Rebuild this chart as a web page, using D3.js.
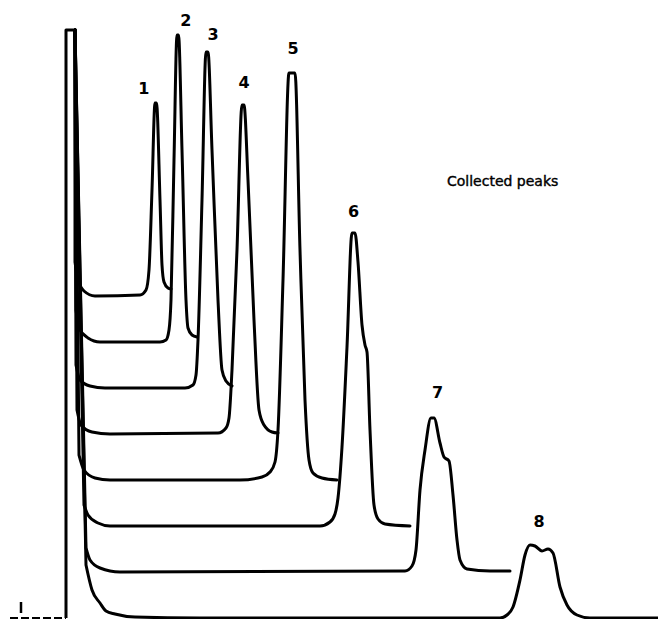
<!DOCTYPE html>
<html><head><meta charset="utf-8">
<script src="https://cdn.jsdelivr.net/npm/d3@7/dist/d3.min.js"></script>
<style>body{margin:0;background:#fff}svg{display:block}</style>
</head><body><svg id="c" width="658" height="619"></svg>
<script>
// ---------- DATA (time units, detector signal units) ----------
const peakLabels = ["1", "2", "3", "4", "5", "6", "7", "8"];
const baselineOffsets = [64.4, 55.2, 46, 36.8, 27.6, 18.4, 9.2, 0];
const injectionTop = 117.6;
const injectionStart = 0;
const injectionEnd = 0.9;
const recorderStart = -5.6;
const markerTime = -4.5;
const markerSignal = [1, 3.2];
const timeRange = [-5.6, 59.2];
const title = "Collected peaks";

// each trace: [time, signal above its own baseline]
const trace1 = [[0.9,6.8],[1.2,3.2],[1.8,1.0],[2.9,0],[7.4,0.2],[8.0,1.2],[8.3,5.2],[8.6,21.2],[8.9,38.6],[9.05,38.6],[9.4,19.2],[9.6,6.2],[9.8,2.8],[10.2,1.6],[10.5,1.4]];
const trace2 = [[1.0,6.4],[1.3,2.8],[2.2,0.8],[3.4,0],[9.4,0],[10.0,0.4],[10.3,2.4],[10.5,8.4],[10.8,36.4],[11.1,61.4],[11.25,61.4],[11.6,38.4],[12.0,8.4],[12.2,2.8],[12.6,1.4],[13.1,1.0]];
const trace3 = [[1.0,4.6],[1.4,1.6],[2.4,0.4],[3.9,0],[11.9,0],[12.7,0.6],[13.0,2.6],[13.2,9.6],[13.6,37.6],[14.0,67.2],[14.2,67.2],[14.6,47.6],[15.2,17.6],[15.6,3.6],[16.0,1.4],[16.6,0.4]];
const trace4 = [[1.1,4.8],[1.5,1.8],[2.6,0.4],[4.4,0],[15.2,0.2],[16.0,1.2],[16.3,3.2],[16.6,12.8],[17.1,36.8],[17.6,65.8],[17.8,65.8],[18.2,50.8],[18.8,22.8],[19.3,4.8],[19.8,1.8],[20.6,0.4],[21.2,0.2]];
const trace5 = [[1.3,5.0],[1.8,2.0],[2.9,0.4],[4.4,0],[17.4,0],[19.6,0.6],[20.4,1.6],[20.9,3.6],[21.2,10],[21.7,40],[22.3,81.4],[22.9,81.4],[23.4,46],[23.9,16],[24.3,4],[24.7,1.4],[25.6,0.4],[27.1,0]];
const trace6 = [[1.8,4.2],[2.2,2.2],[3.2,0.6],[4.4,0],[25.4,0],[26.4,0.8],[26.9,2.4],[27.2,5.6],[27.6,15.8],[28.1,35.8],[28.6,58.6],[28.9,58.6],[29.2,52.8],[29.6,40.2],[29.9,36.2],[30.1,34.8],[30.4,19.2],[30.8,4.2],[31.2,1.4],[31.9,0.4],[34.4,0]];
const trace7 = [[2.0,4.8],[2.4,2.4],[3.4,0.8],[5.4,0],[33.9,0.2],[34.6,1.2],[35.0,4.4],[35.4,16.4],[35.9,24.4],[36.5,30.8],[36.8,30.8],[37.4,25.8],[37.8,23],[38.3,22.2],[38.7,15.4],[39.1,6.4],[39.4,2.4],[40.1,0.6],[42.4,0.2],[44.4,0.2]];
const trace8 = [[2.0,10.6],[2.6,5.6],[3.4,3.0],[4.0,1.4],[4.9,0.8],[6.9,0.2],[13.4,0],[43.4,0],[44.1,0.6],[44.7,2.2],[45.4,7.6],[45.9,12.6],[46.4,14.6],[46.9,14.4],[47.6,13.4],[48.2,13.8],[48.7,13],[49.4,6.2],[50.1,2.6],[51.1,0.6],[52.4,0],[59.2,0]];
const traces = [trace1, trace2, trace3, trace4, trace5, trace6, trace7, trace8];

// ---------- LAYOUT ----------
const labelOffsets = [[-12,-9],[8,-9],[6,-12],[1,-17],[1,-19],[0,-16],[5,-20],[9,-18]];
const svg = d3.select("#c");
const x = d3.scaleLinear().domain(timeRange).range([10, 658]);
const y = d3.scaleLinear().domain([0, 117.6]).range([618, 30]);

const smooth = d3.line().x(d => x(d[0])).y(d => y(d[1])).curve(d3.curveMonotoneX);
const straight = d3.line().x(d => x(d[0])).y(d => y(d[1]));

const ink = "#000";

// recorder baseline before injection (broken line)
svg.append("path")
  .attr("d", straight([[recorderStart, 0], [injectionStart, 0]]))
  .attr("fill", "none").attr("stroke", ink).attr("stroke-width", 2)
  .attr("stroke-dasharray", "8 3");
// small marker
svg.append("path")
  .attr("d", straight([[markerTime, markerSignal[0]], [markerTime, markerSignal[1]]]))
  .attr("fill", "none").attr("stroke", ink).attr("stroke-width", 2.5);

// injection peak
svg.append("path")
  .attr("d", straight([[injectionStart, 0], [injectionStart, injectionTop], [injectionEnd, injectionTop]]))
  .attr("fill", "none").attr("stroke", ink).attr("stroke-width", 3)
  .attr("stroke-linejoin", "round");

// traces
traces.forEach((tr, i) => {
  const pts = tr.map(p => [p[0], p[1] + baselineOffsets[i]]);
  const drop = straight([[injectionEnd, injectionTop], pts[0]]);
  svg.append("path")
    .attr("d", drop + smooth(pts))
    .attr("fill", "none").attr("stroke", ink).attr("stroke-width", 3)
    .attr("stroke-linejoin", "round").attr("stroke-linecap", "round");
  // label at peak maximum
  let best = tr[0];
  tr.forEach(p => { if (p[1] > best[1] && p[0] > 3) best = p; });
  const same = tr.filter(p => p[1] === best[1]);
  const tMid = d3.mean(same, p => p[0]);
  svg.append("text")
    .attr("x", x(tMid) + labelOffsets[i][0])
    .attr("y", y(best[1] + baselineOffsets[i]) + labelOffsets[i][1])
    .attr("text-anchor", "middle")
    .attr("font-family", "DejaVu Sans, sans-serif")
    .attr("font-size", 16).attr("font-weight", "bold")
    .attr("fill", ink)
    .text(peakLabels[i]);
});

svg.append("text")
  .attr("x", 447).attr("y", 186)
  .attr("font-family", "DejaVu Sans, sans-serif")
  .attr("font-size", 14)
  .attr("fill", ink).attr("stroke", ink).attr("stroke-width", 0.4)
  .text(title);
</script>
</body></html>
